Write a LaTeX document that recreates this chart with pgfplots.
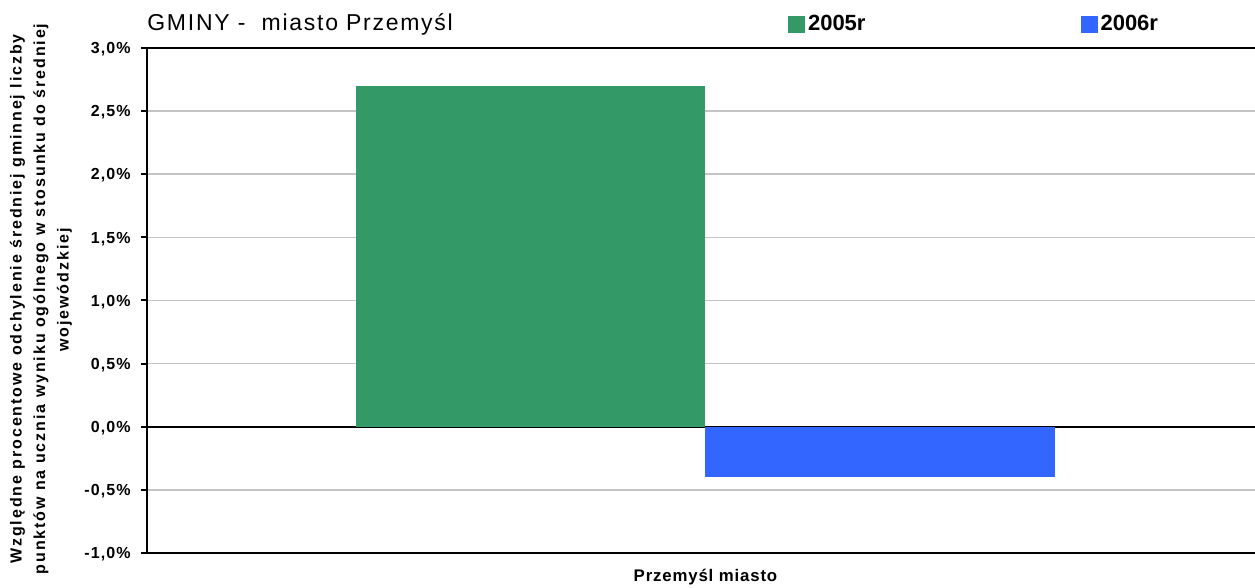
\documentclass[border=0pt]{standalone}
\usepackage{pgfplots}
\pgfplotsset{compat=1.18}
\usepackage{fontspec}
\setmainfont{Liberation Sans}
\definecolor{bargreen}{HTML}{339966}
\definecolor{barblue}{HTML}{3366FF}
\definecolor{gridgray}{HTML}{C4C4C4}
\begin{document}
\begin{tikzpicture}
\useasboundingbox (0,0) rectangle (627.5pt,294pt);
\begin{axis}[
  at={(73.5pt,17.5pt)}, anchor=south west,
  width=558.5pt, height=252.5pt, scale only axis,
  xmin=-1.6, xmax=1.6, ymin=-1, ymax=3,
  xtick=\empty,
  ytick={-1,-0.5,0,0.5,1,1.5,2,2.5,3},
  yticklabels={{-1,0\%},{-0,5\%},{0,0\%},{0,5\%},{1,0\%},{1,5\%},{2,0\%},{2,5\%},{3,0\%}},
  ytick pos=left, tick align=outside, major tick length=3pt,
  tick style={black, line width=1pt},
  yticklabel style={font=\bfseries\fontsize{8}{9}\selectfont\addfontfeature{LetterSpace=7},
    text height=5.7pt, text depth=0pt, inner sep=0pt, anchor=east, xshift=-5pt},
  ymajorgrids, major grid style={gridgray, line width=0.8pt},
  extra y ticks={0}, extra y tick labels={},
  extra y tick style={grid=major, major grid style={black, line width=1pt}},
  axis line style={black, line width=1pt},
  xlabel={Przemyśl miasto},
  xlabel style={at={(axis description cs:0.5,0)}, anchor=base, yshift=-14.5pt, inner sep=0pt,
    font=\bfseries\fontsize{8.4}{10}\selectfont\addfontfeature{LetterSpace=5}},
  legend columns=2,
  legend style={at={(0.5739,1.0465)}, anchor=west, draw=none, fill=none,
    inner sep=0pt, outer sep=0pt,
    font=\bfseries\fontsize{11}{13}\selectfont,
    nodes={inner sep=1.5pt},
    /tikz/every even column/.append style={column sep=106pt}},
  legend image code/.code={\fill[#1] (0pt,-4.25pt) rectangle (8.5pt,4.25pt);},
]
\addplot[ybar, bar width=1, bar shift=0pt, fill=bargreen, draw=none] coordinates {(-0.5,2.7)};
\addplot[ybar, bar width=1, bar shift=0pt, fill=barblue, draw=none] coordinates {(0.5,-0.4)};
\legend{2005r,2006r}
\end{axis}
\node[anchor=base west, inner sep=0pt, font=\fontsize{11.5}{13}\selectfont\addfontfeature{LetterSpace=7.5}]
  at (73.5pt,278.5pt) {GMINY -\ \ miasto Przemyśl};
\node[rotate=90, align=center, inner sep=0pt,
  font=\bfseries\fontsize{8}{11.75}\selectfont\addfontfeature{LetterSpace=12}]
  at (20.5pt,144.5pt) {Względne procentowe odchylenie średniej gminnej liczby\\
  punktów na ucznia wyniku ogólnego w stosunku do średniej\\
  \hspace*{9pt}wojewódzkiej};
\end{tikzpicture}
\end{document}
